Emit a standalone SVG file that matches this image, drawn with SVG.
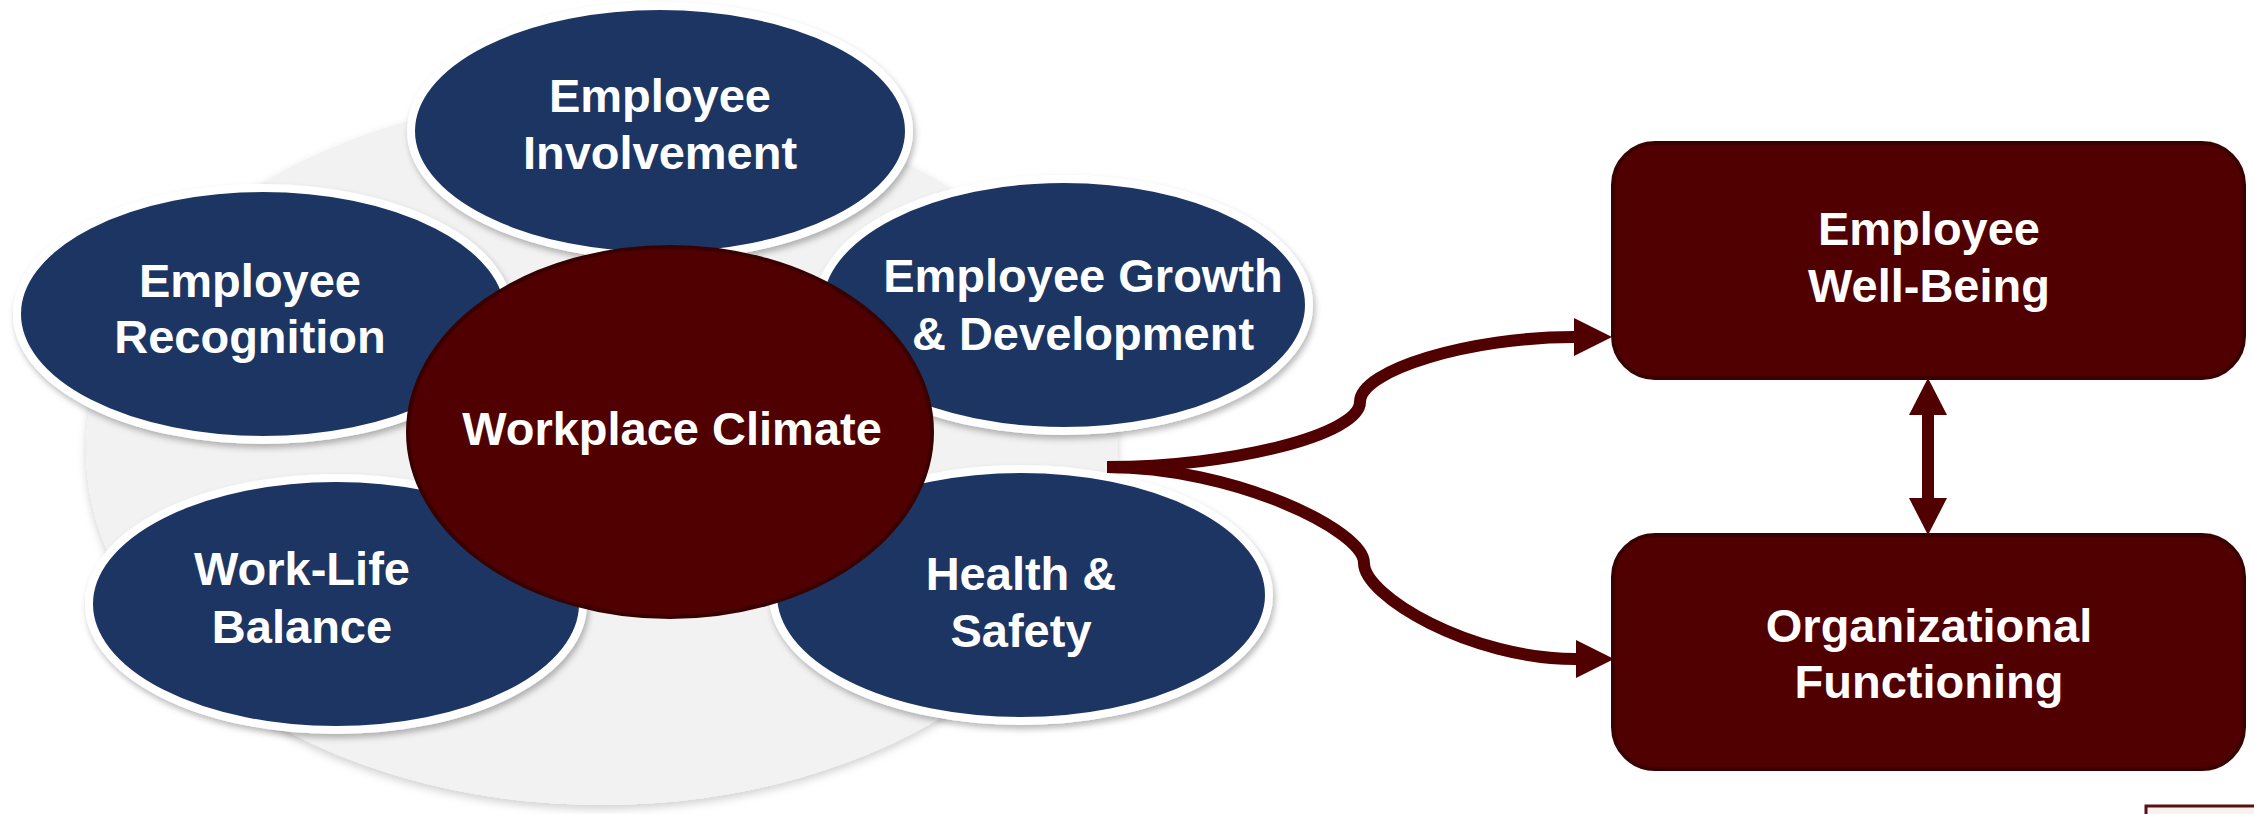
<svg xmlns="http://www.w3.org/2000/svg" width="2254" height="814" viewBox="0 0 2254 814">
  <defs>
    <style>
      .bubble { fill: #1f3562; stroke: #ffffff; stroke-width: 8; filter: url(#soft); }
      .core { fill: #500000; stroke: #3a0000; stroke-width: 4; }
      .box { fill: #500000; stroke: #3a0000; stroke-width: 4; }
      .label { font-family: "Liberation Sans", Arial, sans-serif; font-weight: bold; font-size: 47px; fill: #ffffff; text-anchor: middle; }
      .link { fill: none; stroke: #500000; stroke-width: 12; }
    </style>
    <filter id="soft" x="-10%" y="-10%" width="125%" height="130%">
      <feGaussianBlur in="SourceAlpha" stdDeviation="3"/>
      <feOffset dx="2" dy="4" result="blur"/>
      <feFlood flood-color="#000000" flood-opacity="0.28"/>
      <feComposite in2="blur" operator="in"/>
      <feMerge>
        <feMergeNode/>
        <feMergeNode in="SourceGraphic"/>
      </feMerge>
    </filter>
    <filter id="plate" x="-5%" y="-5%" width="110%" height="112%">
      <feGaussianBlur in="SourceAlpha" stdDeviation="4"/>
      <feOffset dx="0" dy="4" result="blur"/>
      <feFlood flood-color="#000000" flood-opacity="0.18"/>
      <feComposite in2="blur" operator="in"/>
      <feMerge>
        <feMergeNode/>
        <feMergeNode in="SourceGraphic"/>
      </feMerge>
    </filter>
    <marker id="head" viewBox="0 0 38 38" refX="0" refY="19" markerWidth="38" markerHeight="38" markerUnits="userSpaceOnUse" orient="auto">
      <path d="M0,0 L38,19 L0,38 z" fill="#500000"/>
    </marker>
  </defs>

  <!-- light backing disc behind the climate cluster -->
  <g id="backdrop">
    <ellipse cx="602" cy="450" rx="516" ry="355" fill="#f2f2f2" filter="url(#plate)"/>
  </g>

  <g id="employee-involvement">
    <ellipse class="bubble" cx="660" cy="131" rx="249" ry="125"/>
    <text class="label" x="660" y="112">Employee</text>
    <text class="label" x="660" y="169">Involvement</text>
  </g>

  <g id="employee-recognition">
    <ellipse class="bubble" cx="263" cy="314" rx="246" ry="126"/>
    <text class="label" x="250" y="297">Employee</text>
    <text class="label" x="250" y="353">Recognition</text>
  </g>

  <g id="growth-development">
    <ellipse class="bubble" cx="1064" cy="305" rx="245" ry="126"/>
    <text class="label" x="1083" y="292">Employee Growth</text>
    <text class="label" x="1083" y="350">&amp; Development</text>
  </g>

  <g id="work-life-balance">
    <ellipse class="bubble" cx="336" cy="604" rx="247" ry="126"/>
    <text class="label" x="302" y="585">Work-Life</text>
    <text class="label" x="302" y="643">Balance</text>
  </g>

  <g id="health-safety">
    <ellipse class="bubble" cx="1021" cy="595" rx="248" ry="126"/>
    <text class="label" x="1021" y="590">Health &amp;</text>
    <text class="label" x="1021" y="647">Safety</text>
  </g>

  <g id="workplace-climate">
    <ellipse class="core" cx="670" cy="432" rx="262" ry="185"/>
    <text class="label" x="672" y="445">Workplace Climate</text>
  </g>

  <g id="connectors">
    <path class="link" d="M1107,467 C1233,467 1360,434 1360,402 C1360,370 1470,337 1574,337" marker-end="url(#head)"/>
    <path class="link" d="M1107,467 C1233,467 1364,530 1364,563 C1364,596 1470,659 1576,659" marker-end="url(#head)"/>
    <line class="link" x1="1928" y1="412" x2="1928" y2="501"/>
    <path d="M1928,378 L1947,415 L1909,415 z" fill="#500000"/>
    <path d="M1928,535 L1947,498 L1909,498 z" fill="#500000"/>
  </g>

  <g id="employee-well-being">
    <rect class="box" x="1613" y="143" width="631" height="235" rx="42" ry="42"/>
    <text class="label" x="1929" y="245">Employee</text>
    <text class="label" x="1929" y="302">Well-Being</text>
  </g>

  <g id="organizational-functioning">
    <rect class="box" x="1613" y="535" width="631" height="234" rx="42" ry="42"/>
    <text class="label" x="1929" y="642">Organizational</text>
    <text class="label" x="1929" y="698">Functioning</text>
  </g>

  <!-- edge of a framed element cut off at the bottom right -->
  <rect x="2146" y="806" width="120" height="30" fill="#f7f1f1" stroke="#5b1010" stroke-width="3"/>
</svg>
